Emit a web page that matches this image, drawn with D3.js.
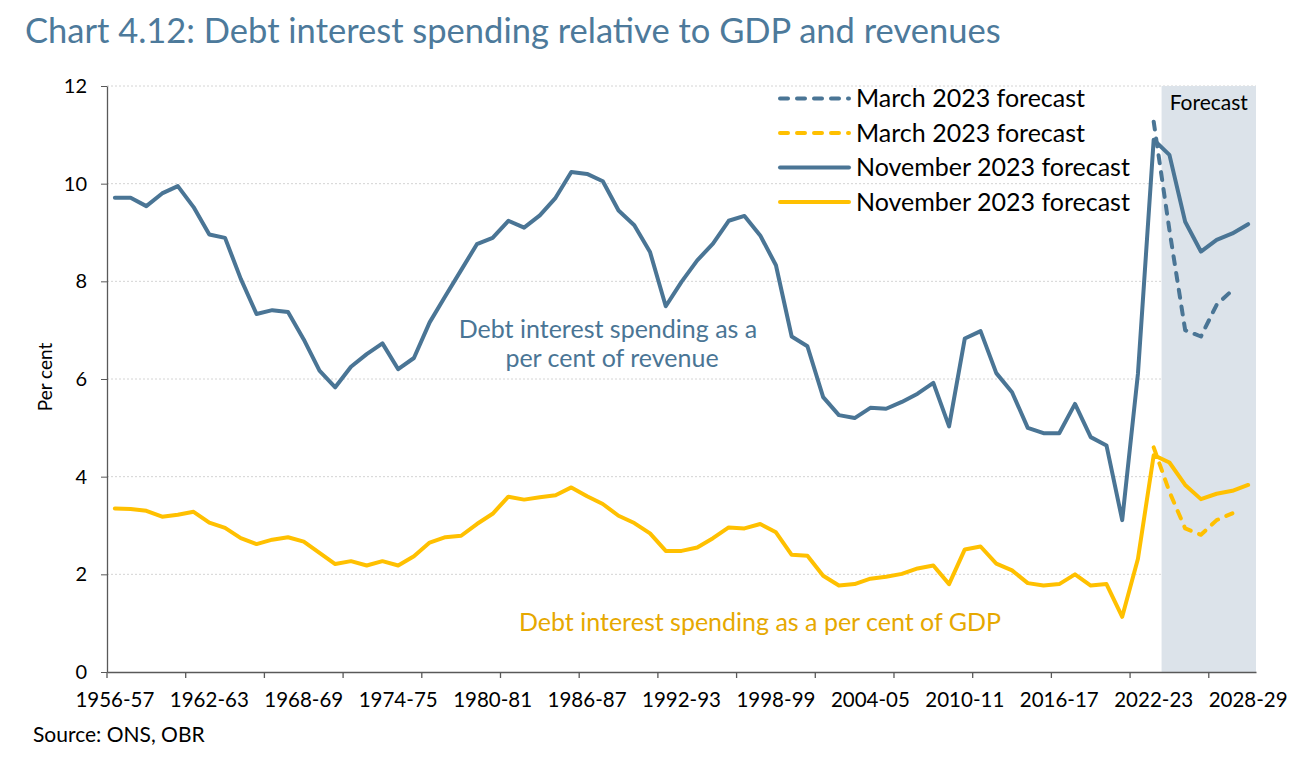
<!DOCTYPE html>
<html>
<head>
<meta charset="utf-8">
<script src="https://cdn.jsdelivr.net/npm/d3@7"></script>
<style>
  body { margin: 0; background: #fff; }
  svg { display: block; font-family: Lato, "Open Sans", sans-serif; }
</style>
</head>
<body>
<svg id="chart" width="1308" height="772"></svg>
<script>
// financial years on the category axis
var years = [
  "1956-57","1957-58","1958-59","1959-60","1960-61","1961-62","1962-63","1963-64","1964-65","1965-66",
  "1966-67","1967-68","1968-69","1969-70","1970-71","1971-72","1972-73","1973-74","1974-75","1975-76",
  "1976-77","1977-78","1978-79","1979-80","1980-81","1981-82","1982-83","1983-84","1984-85","1985-86",
  "1986-87","1987-88","1988-89","1989-90","1990-91","1991-92","1992-93","1993-94","1994-95","1995-96",
  "1996-97","1997-98","1998-99","1999-00","2000-01","2001-02","2002-03","2003-04","2004-05","2005-06",
  "2006-07","2007-08","2008-09","2009-10","2010-11","2011-12","2012-13","2013-14","2014-15","2015-16",
  "2016-17","2017-18","2018-19","2019-20","2020-21","2021-22","2022-23","2023-24","2024-25","2025-26",
  "2026-27","2027-28","2028-29"
];

// November 2023 forecast, per cent of revenue
var novRevenue = [
  9.71, 9.71, 9.54, 9.80, 9.95, 9.52, 8.96, 8.89, 8.05, 7.33,
  7.41, 7.37, 6.81, 6.17, 5.83, 6.25, 6.51, 6.73, 6.20, 6.43,
  7.16, 7.70, 8.23, 8.76, 8.89, 9.24, 9.10, 9.35, 9.71, 10.24,
  10.20, 10.05, 9.45, 9.15, 8.60, 7.49, 7.99, 8.43, 8.77, 9.24,
  9.34, 8.94, 8.33, 6.87, 6.67, 5.63, 5.26, 5.20, 5.41, 5.39,
  5.53, 5.70, 5.92, 5.03, 6.83, 6.98, 6.12, 5.73, 5.00, 4.89,
  4.89, 5.49, 4.81, 4.64, 3.11, 6.11, 10.90, 10.59, 9.22, 8.61,
  8.85, 8.98, 9.17
];

// November 2023 forecast, per cent of GDP
var novGdp = [
  3.35, 3.34, 3.30, 3.18, 3.22, 3.28, 3.06, 2.95, 2.74, 2.62,
  2.71, 2.76, 2.67, 2.44, 2.21, 2.27, 2.18, 2.27, 2.18, 2.37,
  2.65, 2.76, 2.79, 3.03, 3.24, 3.59, 3.53, 3.58, 3.62, 3.78,
  3.60, 3.44, 3.20, 3.05, 2.84, 2.48, 2.48, 2.55, 2.74, 2.96,
  2.94, 3.03, 2.86, 2.40, 2.38, 1.97, 1.77, 1.80, 1.91, 1.95,
  2.01, 2.12, 2.18, 1.80, 2.51, 2.57, 2.22, 2.08, 1.82, 1.77,
  1.80, 2.00, 1.77, 1.80, 1.13, 2.32, 4.44, 4.29, 3.83, 3.54,
  3.65, 3.71, 3.83
];

// March 2023 forecast runs 2022-23 to 2027-28
var marchYears = ["2022-23","2023-24","2024-25","2025-26","2026-27","2027-28"];
var marchRevenue = [11.27, 9.05, 7.00, 6.87, 7.52, 7.82];
var marchGdp = [4.60, 3.69, 2.94, 2.81, 3.11, 3.25];

var yTicks = [0, 2, 4, 6, 8, 10, 12];
var forecastStart = "2023-24";

var blue = "#4a7595", yellow = "#ffc000";

var svg = d3.select("#chart");
// plot edges (avoid "top", which is window.top in global scope)
var plotL = 107, plotR = 1256, plotT = 86, plotB = 672;

var x = d3.scaleBand().domain(years).range([plotL, plotR]).padding(0);
var y = d3.scaleLinear().domain([0, 12]).range([plotB, plotT]);
var cx = function(d) { return x(d) + x.bandwidth() / 2; };

// title
svg.append("text")
  .attr("x", 25).attr("y", 43)
  .attr("fill", "#4d7a9b")
  .style("font-size", "34.5px")
  .text("Chart 4.12: Debt interest spending relative to GDP and revenues");

// gridlines
svg.append("g").selectAll("line")
  .data(yTicks.filter(function(d) { return d > 0; }))
  .enter().append("line")
  .attr("x1", plotL).attr("x2", plotR)
  .attr("y1", function(d) { return y(d); })
  .attr("y2", function(d) { return y(d); })
  .attr("stroke", "#d4d4d4")
  .attr("stroke-dasharray", "2,2");

// forecast shading
svg.append("rect")
  .attr("x", x(forecastStart)).attr("y", plotT)
  .attr("width", plotR - x(forecastStart)).attr("height", plotB - plotT)
  .attr("fill", "#dce3ea");

svg.append("text")
  .attr("x", (x(forecastStart) + plotR) / 2).attr("y", 110)
  .attr("text-anchor", "middle")
  .style("font-size", "21px")
  .text("Forecast");

// y axis
var yAxis = svg.append("g")
  .attr("transform", "translate(" + plotL + ",0)")
  .call(d3.axisLeft(y).tickValues(yTicks).tickSize(6).tickSizeOuter(0).tickPadding(14))
  .attr("font-family", null);
yAxis.select(".domain").attr("stroke", "#595959").attr("stroke-width", 1.3);
yAxis.selectAll(".tick line").attr("stroke", "#595959");
yAxis.selectAll("text").style("font-size", "20px").attr("fill", "#000");

svg.append("text")
  .attr("transform", "translate(52," + (y(6) - 2) + ") rotate(-90)")
  .attr("text-anchor", "middle")
  .style("font-size", "19px")
  .text("Per cent");

// x axis: labels every 6 years, tick marks every 5
var xAxis = svg.append("g")
  .attr("transform", "translate(0," + plotB + ")")
  .call(d3.axisBottom(x)
    .tickValues(years.filter(function(d, i) { return i % 6 === 0; }))
    .tickSize(0).tickPadding(20))
  .attr("font-family", null);
xAxis.select(".domain").attr("stroke", "#595959").attr("stroke-width", 1.3);
xAxis.selectAll("text").style("font-size", "20.5px").attr("fill", "#000");

svg.append("g").selectAll("line")
  .data(years.filter(function(d, i) { return i % 5 === 0; }))
  .enter().append("line")
  .attr("x1", function(d) { return x(d); })
  .attr("x2", function(d) { return x(d); })
  .attr("y1", plotB).attr("y2", plotB + 6)
  .attr("stroke", "#595959").attr("stroke-width", 1.3);

// lines
var line = d3.line()
  .x(function(d) { return cx(d[0]); })
  .y(function(d) { return y(d[1]); });

function drawSeries(cats, vals, colour, dashed) {
  svg.append("path")
    .datum(d3.zip(cats, vals))
    .attr("d", line)
    .attr("fill", "none")
    .attr("stroke", colour)
    .attr("stroke-width", 4)
    .attr("stroke-linejoin", "round")
    .attr("stroke-linecap", "round")
    .attr("stroke-dasharray", dashed ? "8,9" : null);
}

drawSeries(years, novGdp, yellow, false);
drawSeries(years, novRevenue, blue, false);
drawSeries(marchYears, marchGdp, yellow, true);
drawSeries(marchYears, marchRevenue, blue, true);

// annotations
var revNote = svg.append("text")
  .attr("text-anchor", "middle")
  .attr("fill", "#4a7595")
  .style("font-size", "25px");
revNote.append("tspan").attr("x", 608).attr("y", 338).text("Debt interest spending as a");
revNote.append("tspan").attr("x", 612).attr("y", 367).text("per cent of revenue");

svg.append("text")
  .attr("x", 760).attr("y", 631)
  .attr("text-anchor", "middle")
  .attr("fill", "#e6a800")
  .style("font-size", "25px")
  .text("Debt interest spending as a per cent of GDP");

// legend
var legendItems = [
  { label: "March 2023 forecast", colour: blue, dashed: true },
  { label: "March 2023 forecast", colour: yellow, dashed: true },
  { label: "November 2023 forecast", colour: blue, dashed: false },
  { label: "November 2023 forecast", colour: yellow, dashed: false }
];

var legend = svg.append("g").selectAll("g")
  .data(legendItems)
  .enter().append("g")
  .attr("transform", function(d, i) { return "translate(780," + (98.5 + i * 34.5) + ")"; });

legend.append("line")
  .attr("x1", 0).attr("x2", 69)
  .attr("stroke", function(d) { return d.colour; })
  .attr("stroke-width", 4)
  .attr("stroke-linecap", "round")
  .attr("stroke-dasharray", function(d) { return d.dashed ? "8,9" : null; });

legend.append("text")
  .attr("x", 76).attr("dy", "0.35em")
  .style("font-size", "25px")
  .text(function(d) { return d.label; });

// source
svg.append("text")
  .attr("x", 33).attr("y", 742)
  .style("font-size", "21px")
  .text("Source: ONS, OBR");
</script>
</body>
</html>
